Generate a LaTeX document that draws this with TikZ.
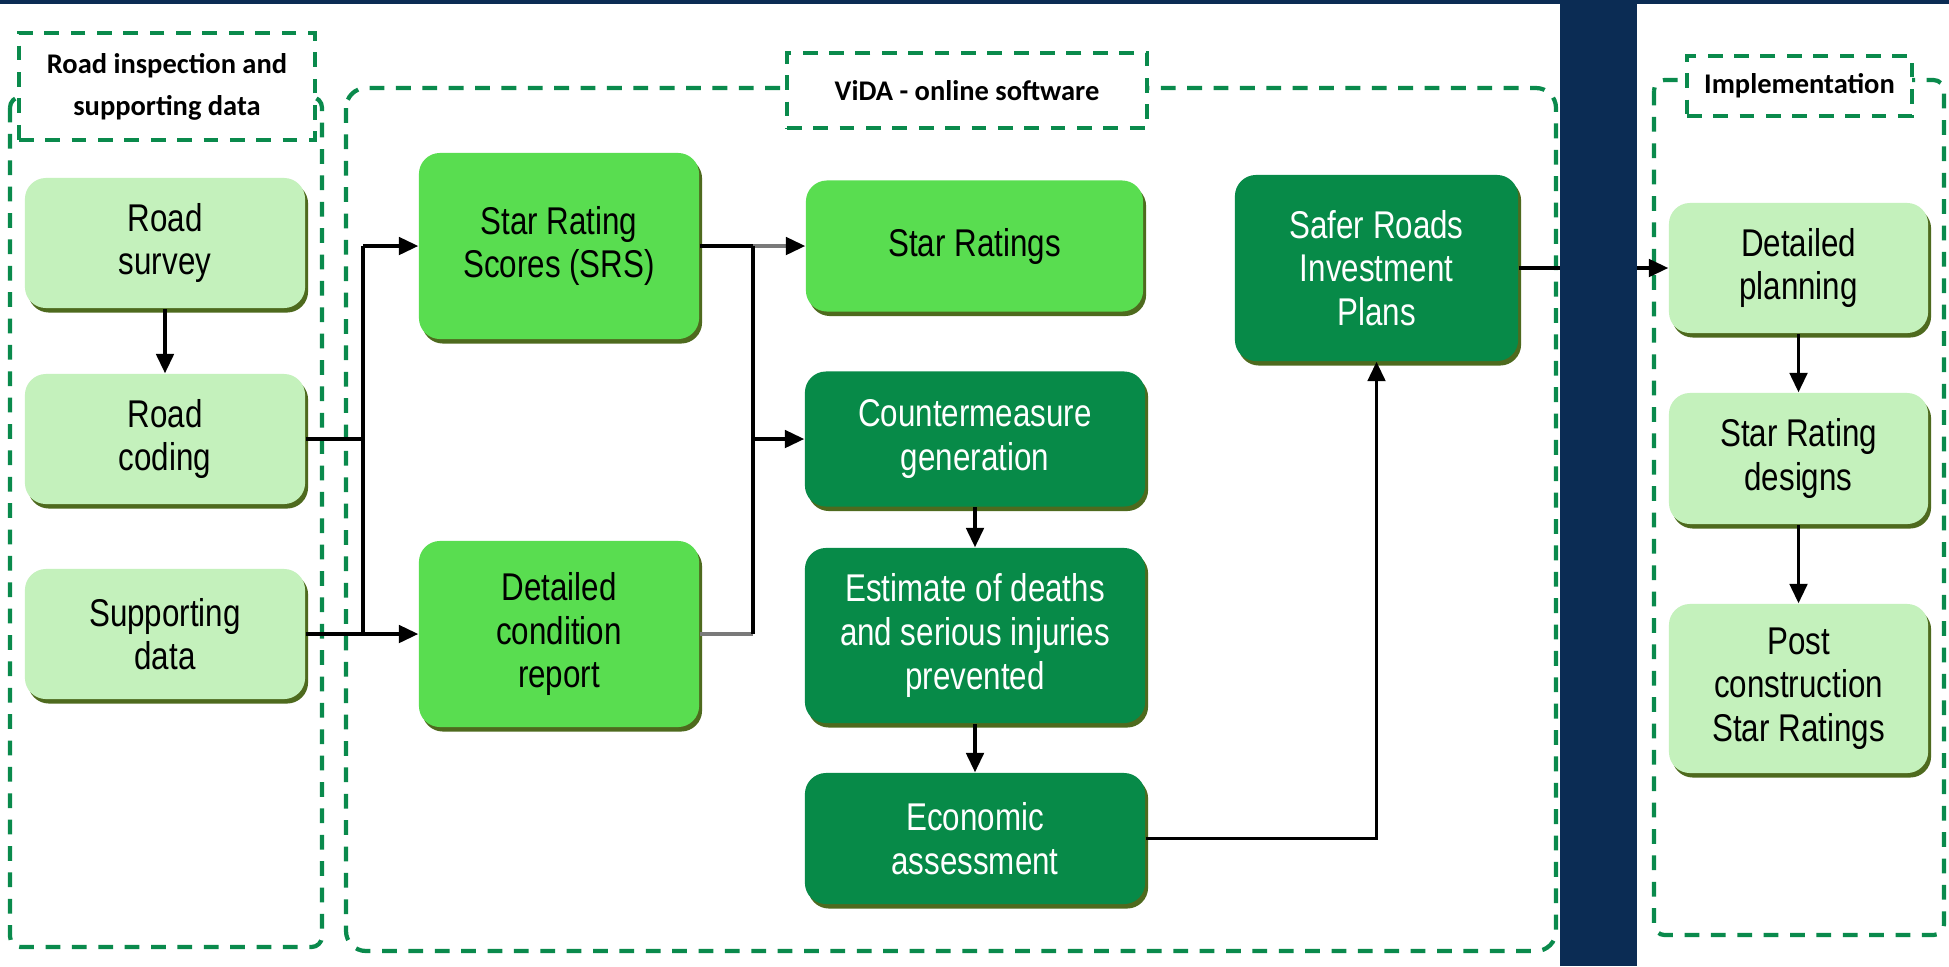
\documentclass[tikz,border=0pt]{standalone}
\usepackage{fontspec}
\setmainfont[FakeStretch=0.81]{Liberation Sans}
\newfontfamily\titlefont{Carlito}
\usetikzlibrary{arrows.meta,shadows}
\definecolor{navy}{HTML}{0B2C54}
\definecolor{lightg}{HTML}{C4F1BC}
\definecolor{midg}{HTML}{59DD50}
\definecolor{darkg}{HTML}{078A48}
\definecolor{shadowg}{HTML}{4E6A1E}
\definecolor{dashg}{HTML}{0A8A4C}
\definecolor{linegray}{HTML}{7A7A7A}
\begin{document}
\begin{tikzpicture}[x=0.01cm,y=-0.01cm,
 box/.style={rounded corners=6pt, align=center, inner sep=0pt,
   font=\fontsize{11}{12.4}\selectfont,
   drop shadow={shadow xshift=0.03cm, shadow yshift=-0.045cm, fill=shadowg, opacity=1}},
 lbox/.style={box, fill=lightg, text=black},
 mbox/.style={box, fill=midg, text=black},
 dbox/.style={box, fill=darkg, text=white},
 grp/.style={draw=dashg, line width=1.2pt, dash pattern=on 4.2pt off 3.3pt},
 ttl/.style={grp, fill=white, align=center, inner sep=0pt,
   font=\titlefont\bfseries\fontsize{8.1}{12}\selectfont},
 conn/.style={line width=0.9pt, draw=black},
 arr/.style={conn, -{Triangle[length=5.5pt,width=5pt,color=black]}},
]
\useasboundingbox (0,0) rectangle (1949,966);
\fill[white] (0,0) rectangle (1949,966);

% group frames
\draw[grp, rounded corners=3pt] (10,97) rectangle (322,947);
\draw[grp, rounded corners=0.2cm] (346,88) rectangle (1556,951);
\draw[grp, rounded corners=3pt] (1654,80) rectangle (1944,935);

\node[ttl, minimum width=2.96cm, minimum height=1.07cm] (t1) at (167,86.5) {Road inspection and\\supporting data};
\node[ttl, minimum width=3.6cm, minimum height=0.75cm] (t2) at (967,90.5) {ViDA - online software};
\node[ttl, minimum width=2.25cm, minimum height=0.6cm] (t3) at (1799.5,86) {Implementation};

% boxes
\node[lbox, minimum width=2.8cm, minimum height=1.3cm] (rs) at (165,243) {Road\\survey};
\node[lbox, minimum width=2.8cm, minimum height=1.3cm] (rc) at (165,439) {Road\\coding};
\node[lbox, minimum width=2.8cm, minimum height=1.3cm] (sd) at (165,634) {Supporting\\data};
\node[mbox, minimum width=2.8cm, minimum height=1.86cm] (srs) at (559,246) {Star Rating\\Scores (SRS)};
\node[mbox, minimum width=2.8cm, minimum height=1.86cm] (dcr) at (559,634) {Detailed\\condition\\report};
\node[mbox, minimum width=3.37cm, minimum height=1.31cm] (sr) at (974.5,246) {Star Ratings};
\node[dbox, minimum width=3.4cm, minimum height=1.35cm] (cm) at (975,439) {Countermeasure\\generation};
\node[dbox, minimum width=3.4cm, minimum height=1.75cm] (est) at (975,635.5) {Estimate of deaths\\and serious injuries\\prevented};
\node[dbox, minimum width=3.4cm, minimum height=1.31cm] (econ) at (975,838.5) {Economic\\assessment};
\node[dbox, minimum width=2.83cm, minimum height=1.86cm] (srip) at (1376.5,268) {Safer Roads\\Investment\\Plans};
\node[lbox, minimum width=2.59cm, minimum height=1.3cm] (dp) at (1798.5,268) {Detailed\\planning};
\node[lbox, minimum width=2.59cm, minimum height=1.31cm] (srd) at (1798.5,458.5) {Star Rating\\designs};
\node[lbox, minimum width=2.59cm, minimum height=1.69cm] (pc) at (1798.5,688.5) {Post\\construction\\Star Ratings};

% junctions
\coordinate (jl0) at (363,439);
\coordinate (jl1) at (363,246);
\coordinate (jl2) at (363,634);
\coordinate (jm1) at (753,246);
\coordinate (jm2) at (753,439);
\coordinate (jm3) at (753,634);

% connectors
\draw[arr] (rs) -- (rc);
\draw[conn] (rc.east) -- (jl0);
\draw[conn] (sd.east) -- (jl2);
\draw[conn] (jl1) -- (jl2);
\draw[arr] (jl1) -- (srs.west);
\draw[arr] (jl2) -- (dcr.west);
\draw[conn] (srs.east) -- (jm1);
\draw[arr, draw=linegray] (jm1) -- (sr.west);
\draw[conn, draw=linegray] (dcr.east) -- (jm3);
\draw[conn] (jm1) -- (jm3);
\draw[arr] (jm2) -- (cm.west);
\draw[arr] (cm) -- (est);
\draw[arr] (est) -- (econ);
\draw[arr] (econ.east) -| (srip.south);
\draw[arr] (srip.east) -- (dp.west);
\draw[arr] (dp) -- (srd);
\draw[arr] (srd) -- (pc);

% navy bands
\fill[navy] (1560,0) rectangle (1637,966);
\fill[navy] (0,0) rectangle (1949,4);
\end{tikzpicture}
\end{document}
